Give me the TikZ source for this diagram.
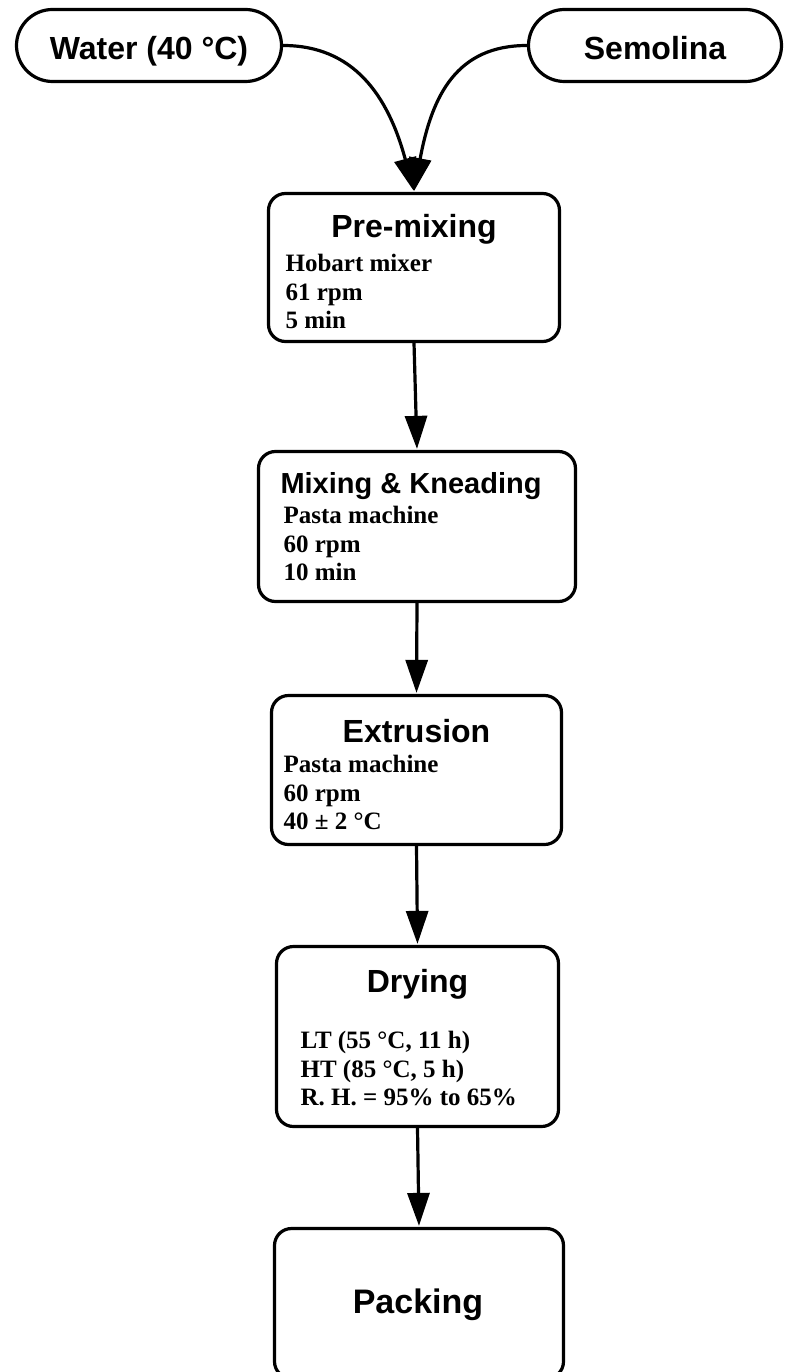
\documentclass[tikz,border=0pt]{standalone}
\usepackage{fontspec}
\setmainfont{Liberation Serif}
\setsansfont{Liberation Sans}
\usetikzlibrary{arrows.meta}
\begin{document}
\begin{tikzpicture}[x=1pt, y=1pt, shorten >=1pt, line width=3.2pt, >={Triangle[width=22pt,length=33pt]},
  feed node/.style={draw, rounded corners=36pt, minimum height=72pt, inner sep=0pt, text height=28pt, text depth=0pt, font=\sffamily\bfseries\fontsize{32}{36}\selectfont},
  stage node/.style={draw, rounded corners=17pt, inner sep=0pt},
  title text/.style={anchor=base, inner sep=0pt, font=\sffamily\bfseries\fontsize{#1}{36}\selectfont},
  title text/.default=32,
  info text/.style={anchor=north west, inner sep=0pt, align=left, font=\bfseries\fontsize{25}{28.5}\selectfont}]
\useasboundingbox (0,0) rectangle (786,-1372);
\begin{scope}
\node[feed node, minimum width=265pt] (water) at (149,-45.5) {Water (40 °C)};
\node[feed node, minimum width=253pt] (semolina) at (655,-45.5) {Semolina};
\node[stage node, minimum width=291pt, minimum height=148pt] (premix) at (414,-267.5) {};
\node[stage node, minimum width=317pt, minimum height=150pt] (mixing) at (417,-526.5) {};
\node[stage node, minimum width=290pt, minimum height=149pt] (extrusion) at (416.5,-770) {};
\node[stage node, minimum width=282pt, minimum height=180pt] (drying) at (417.5,-1036.5) {};
\node[stage node, minimum width=289pt, minimum height=150pt] (packing) at (419,-1303.5) {};
\end{scope}
\begin{scope}
\node[title text] (premixT) at (414,-238) {Pre-mixing};
\node[info text] (premixI) at (284,-253) {Hobart mixer\\61 rpm\\5 min};
\node[title text=29] (mixingT) at (411,-493) {Mixing \& Kneading};
\node[info text] (mixingI) at (282,-505) {Pasta machine\\60 rpm\\10 min};
\node[title text] (extrusionT) at (416.5,-742) {Extrusion};
\node[info text] (extrusionI) at (282,-754) {Pasta machine\\60 rpm\\40 ± 2 °C};
\node[title text] (dryingT) at (417.5,-992) {Drying};
\node[info text] (dryingI) at (299,-1030) {LT (55 °C, 11 h)\\HT (85 °C, 5 h)\\R. H. = 95\% to 65\%};
\node[title text=34] (packingT) at (418,-1313) {Packing};
\end{scope}
\begin{scope}
\draw[->] (water.east) .. controls +(70,0) and +(-26,97) .. (premix.north);
\draw[->] (semolina.west) .. controls +(-70,0) and +(18,97) .. (premix.north);
\draw[->] (premix.south) -- (mixing.north);
\draw[->] (mixing.south) -- (extrusion.north);
\draw[->] (extrusion.south) -- (drying.north);
\draw[->] (drying.south) -- (packing.north);
\end{scope}
\end{tikzpicture}
\end{document}
